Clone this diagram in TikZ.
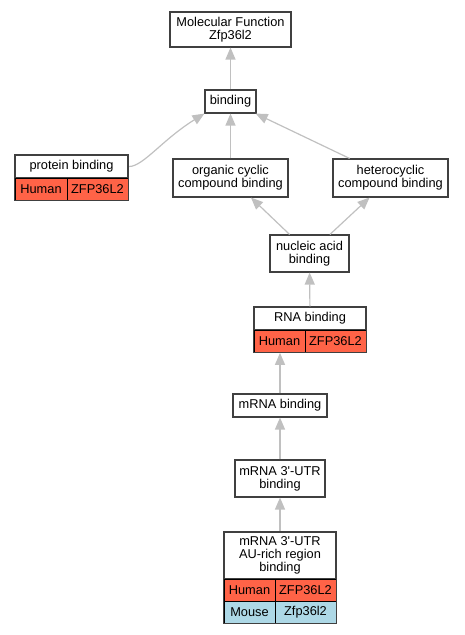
\documentclass[tikz,border=0pt]{standalone}
\usepackage{fontspec}
\setmainfont{Liberation Sans}
\usetikzlibrary{arrows.meta, fit}
\definecolor{BoxLine}{RGB}{64, 64, 64}
\definecolor{EdgeGrey}{RGB}{192, 192, 192}
\definecolor{HumanRed}{RGB}{255, 99, 71}
\definecolor{MouseBlue}{RGB}{173, 216, 230}

\begin{document}
\begin{tikzpicture}[x=1pt, y=-1pt,
    term/.style={draw=BoxLine, line width=1.1pt, fill=white, inner sep=0pt,
                 align=center, font=\fontsize{12.8}{13}\selectfont},
    cell/.style={draw=black, line width=0.6pt, inner sep=0pt,
                 minimum height=22pt, font=\fontsize{12.8}{13}\selectfont},
    human/.style={cell, fill=HumanRed},
    mouse/.style={cell, fill=MouseBlue},
    frame/.style={draw=BoxLine, line width=1.1pt, inner sep=0pt},
    isa/.style={draw=EdgeGrey, line width=1.2pt,
                -{Triangle[width=10pt, length=12pt]}}]
    \useasboundingbox (0,0) rectangle (464,635);

    % Plain GO terms
    \node[term, minimum width=121pt, minimum height=35pt] (mf) at (230.5, 29.5)
        {Molecular Function\\Zfp36l2};
    \node[term, minimum width=51pt, minimum height=23pt] (bind) at (230.5, 101.5) {binding};
    \node[term, minimum width=115pt, minimum height=38pt] (orgcyc) at (230.5, 178)
        {organic cyclic\\compound binding};
    \node[term, minimum width=115pt, minimum height=38pt] (hetcyc) at (390.5, 178)
        {heterocyclic\\compound binding};
    \node[term, minimum width=79pt, minimum height=37pt] (nucl) at (309.5, 253.5)
        {nucleic acid\\binding};
    \node[term, minimum width=94pt, minimum height=23pt] (mrna) at (280, 405.5) {mRNA binding};
    \node[term, minimum width=90pt, minimum height=37pt] (utr) at (280, 478.5)
        {mRNA 3\textquotesingle-UTR\\binding};

    % Terms with annotated genes
    \node[term, minimum width=113pt, minimum height=23pt] (prottop) at (71.5, 166.5) {protein binding};
    \node[human, minimum width=52pt] (prothum) at (41, 189) {Human};
    \node[human, minimum width=61pt] (protzfp) at (97.5, 189) {ZFP36L2};
    \node[frame, fit=(prottop)(prothum)(protzfp)] (prot) {};

    \node[term, minimum width=112pt, minimum height=23pt] (rnatop) at (310, 318.5) {RNA binding};
    \node[human, minimum width=51pt] (rnahum) at (279.5, 341) {Human};
    \node[human, minimum width=61pt] (rnazfp) at (335.5, 341) {ZFP36L2};
    \node[frame, fit=(rnatop)(rnahum)(rnazfp)] (rna) {};

    \node[term, minimum width=112pt, minimum height=47pt] (autop) at (280, 555.5)
        {mRNA 3\textquotesingle-UTR\\AU-rich region\\binding};
    \node[human, minimum width=51pt] (auhum) at (249.5, 590) {Human};
    \node[human, minimum width=61pt] (auzfp) at (305.5, 590) {ZFP36L2};
    \node[mouse, minimum width=51pt] (aumou) at (249.5, 612) {Mouse};
    \node[mouse, minimum width=61pt] (auzfpm) at (305.5, 612) {Zfp36l2};
    \node[frame, fit=(autop)(auhum)(auzfpm)] (au) {};

    % is_a edges
    \draw[isa] (bind) -- (mf);
    \draw[isa] (prot.east |- prottop) .. controls +(14,0) and +(-42,26) .. (bind.south west);
    \draw[isa] (orgcyc) -- (bind);
    \draw[isa] (hetcyc) -- (bind);
    \draw[isa] (nucl) -- (orgcyc);
    \draw[isa] (nucl) -- (hetcyc);
    \draw[isa] (rnatop) -- (nucl);
    \draw[isa] (mrna) -- (mrna |- rna.south);
    \draw[isa] (utr) -- (mrna);
    \draw[isa] (au) -- (utr);
\end{tikzpicture}
\end{document}
